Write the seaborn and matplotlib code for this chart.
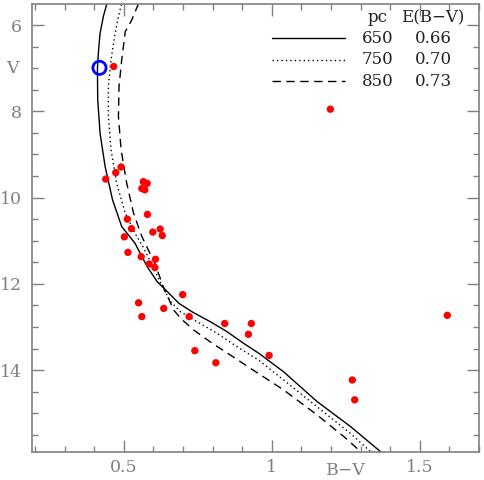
import matplotlib
matplotlib.use("Agg")
import matplotlib.pyplot as plt
import seaborn as sns
import pandas as pd
from matplotlib.ticker import MultipleLocator, FixedLocator

# observed stars (B-V, V)
star_bv = [0.466, 0.491, 0.473, 0.439, 0.566, 0.579, 0.561, 0.571, 0.580, 0.512,
           0.526, 0.598, 0.623, 0.630, 0.502, 0.514, 0.559, 0.586, 0.607, 0.605,
           0.699, 0.550, 0.635, 0.561, 0.721, 0.841, 0.740, 0.811, 0.931, 0.921,
           0.991, 1.272, 1.280, 1.593, 1.198]
star_v = [6.96, 9.29, 9.42, 9.57, 9.63, 9.67, 9.79, 9.82, 10.39, 10.50,
          10.72, 10.80, 10.73, 10.88, 10.91, 11.27, 11.37, 11.54, 11.43, 11.62,
          12.25, 12.44, 12.57, 12.76, 12.76, 12.92, 13.55, 13.83, 12.92, 13.17,
          13.66, 14.23, 14.69, 12.73, 7.95]

# highlighted star
hl_bv = [0.418]
hl_v = [6.99]

# isochrones at three distances
iso_650_bv = [0.443, 0.431, 0.420, 0.415, 0.411, 0.412, 0.420, 0.437, 0.462, 0.493,
              0.538, 0.579, 0.613, 0.647, 0.686, 0.731, 0.793, 0.849, 0.905, 0.956,
              1.040, 1.153, 1.266, 1.367]
iso_650_v = [5.50, 5.80, 6.19, 6.57, 7.00, 7.73, 8.51, 9.28, 10.05, 10.67,
             11.06, 11.60, 11.95, 12.18, 12.45, 12.65, 12.88, 13.11, 13.38, 13.61,
             14.04, 14.73, 15.31, 15.89]
iso_750_bv = [0.492, 0.482, 0.469, 0.457, 0.448, 0.448, 0.457, 0.476, 0.505, 0.538,
              0.565, 0.596, 0.630, 0.658, 0.692, 0.748, 0.816, 0.883, 0.956, 1.040,
              1.153, 1.266, 1.333]
iso_750_v = [5.52, 5.80, 6.26, 6.81, 7.42, 8.12, 8.89, 9.67, 10.36, 10.83,
             11.14, 11.56, 12.06, 12.41, 12.65, 12.88, 13.15, 13.46, 13.77, 14.23,
             14.85, 15.47, 15.89]
iso_850_bv = [0.550, 0.527, 0.516, 0.505, 0.493, 0.484, 0.482, 0.491, 0.510, 0.533,
              0.561, 0.607, 0.635, 0.669, 0.692, 0.736, 0.799, 0.860, 0.928, 1.040,
              1.153, 1.243, 1.300]
iso_850_v = [5.50, 5.88, 6.02, 6.15, 6.81, 7.42, 8.12, 8.89, 9.67, 10.36,
             10.90, 11.56, 12.10, 12.61, 12.80, 13.07, 13.38, 13.65, 13.96, 14.46,
             15.04, 15.54, 15.89]

legend_pc = ["650", "750", "850"]
legend_ebv = ["0.66", "0.70", "0.73"]
legend_styles = ["-", ":", "--"]

sns.set_style("ticks")
plt.rcParams['font.family'] = ['DejaVu Serif']

gray = "#808080"
txt = "#222222"
dashes = {"-": None, ":": [1, 2.2], "--": [6, 4]}

fig = plt.figure(figsize=(4.84, 4.80), dpi=100)
ax = fig.add_axes([0.0661, 0.0583, 0.9236, 0.9334])

isos = [(iso_650_bv, iso_650_v), (iso_750_bv, iso_750_v), (iso_850_bv, iso_850_v)]
for (bv, v), ls in zip(isos, legend_styles):
    d = pd.DataFrame({"bv": bv, "v": v})
    sns.lineplot(data=d, x="bv", y="v", sort=False, estimator=None,
                 color="black", lw=1.0, ax=ax)
    if dashes[ls]:
        ax.lines[-1].set_dashes(dashes[ls])

sns.scatterplot(x=star_bv, y=star_v, color="#ff0000", s=28, edgecolor="none", ax=ax, zorder=3)
sns.scatterplot(x=hl_bv, y=hl_v, facecolor="none", edgecolor="#0000ff", s=90,
                linewidth=2, ax=ax, zorder=4)

ax.set_xlim(0.19, 1.70)
ax.set_ylim(15.9, 5.51)
ax.set_xlabel("")
ax.set_ylabel("")

ax.xaxis.set_major_locator(FixedLocator([0.5, 1.0, 1.5]))
ax.set_xticklabels(["0.5", "1", "1.5"])
ax.xaxis.set_minor_locator(MultipleLocator(0.1))
ax.yaxis.set_major_locator(FixedLocator([6, 8, 10, 12, 14]))
ax.yaxis.set_minor_locator(MultipleLocator(0.5))

ax.tick_params(which="both", direction="in", top=True, right=True, color=gray,
               width=1.0, labelcolor=gray, labelsize=12.5)
ax.tick_params(which="major", length=8.5)
ax.tick_params(which="minor", length=4.5)
ax.tick_params(axis="x", pad=5)
ax.tick_params(axis="y", pad=7)
for s in ax.spines.values():
    s.set_color(gray)
    s.set_linewidth(1.2)

ax.annotate("V", xy=(0, 7), xycoords=("axes fraction", "data"), xytext=(-14, 0),
            textcoords="offset points", ha="center", va="center", color=gray, fontsize=12.5)
ax.annotate("B\u2212V", xy=(1.25, 0), xycoords=("data", "axes fraction"), xytext=(0, -13),
            textcoords="offset points", ha="center", va="center", color=gray, fontsize=12.5)

# legend drawn as a small table in the upper right
ax.text(0.774, 0.969, "pc", transform=ax.transAxes, ha="center", va="center", fontsize=12, color=txt)
ax.text(0.897, 0.969, "E(B\u2212V)", transform=ax.transAxes, ha="center", va="center", fontsize=12, color=txt)
rows_y = [0.924, 0.875, 0.828]
for y, pc, ebv, ls in zip(rows_y, legend_pc, legend_ebv, legend_styles):
    ln, = ax.plot([0.537, 0.700], [y, y], transform=ax.transAxes, color="black", lw=1.0)
    if dashes[ls]:
        ln.set_dashes(dashes[ls])
    ax.text(0.774, y, pc, transform=ax.transAxes, ha="center", va="center", fontsize=12, color=txt)
    ax.text(0.897, y, ebv, transform=ax.transAxes, ha="center", va="center", fontsize=12, color=txt)

fig.savefig("out.png", dpi=100)
